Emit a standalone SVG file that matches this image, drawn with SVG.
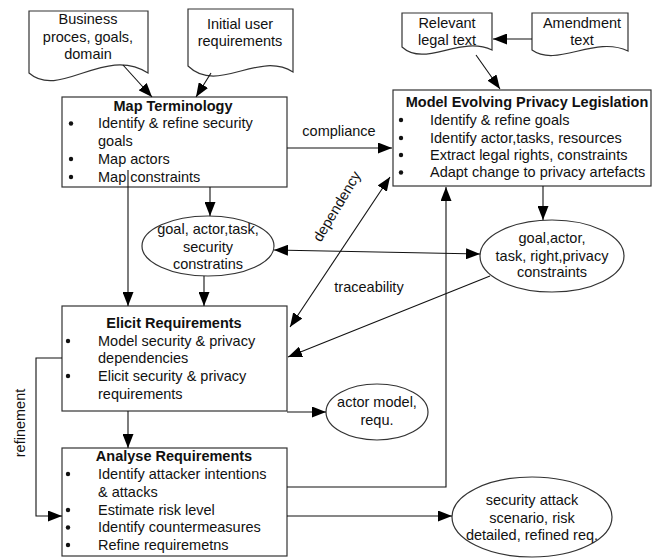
<svg xmlns="http://www.w3.org/2000/svg" width="653" height="558" viewBox="0 0 653 558">
<defs>
<marker id="ah" markerUnits="userSpaceOnUse" markerWidth="15" markerHeight="11" refX="14" refY="5.5" orient="auto-start-reverse"><path d="M0,0 L14,5.5 L0,11 z" fill="#000"/></marker>
</defs>
<style>
text{font-family:"Liberation Sans",Arial,sans-serif;font-size:14.5px;fill:#111}
.c{text-anchor:middle}
.b{font-weight:bold}
.shape{fill:#fff;stroke:#333;stroke-width:1.2}
.ln{fill:none;stroke:#111;stroke-width:1.1}
.arr{marker-end:url(#ah)}
.both{marker-start:url(#ah);marker-end:url(#ah)}
.dot{fill:#111}
</style>
<rect width="653" height="558" fill="#fff"/>

<g id="doc-business">
<path class="shape" d="M29,11 H148 V73 C105,45 60,100 29,73 Z"/>
<text class="c" x="88" y="24">Business</text>
<text class="c" x="88" y="41.5">proces, goals,</text>
<text class="c" x="88" y="59">domain</text>
</g>
<g id="doc-initial">
<path class="shape" d="M188,9 H293 V72 C258,50 218,95 188,66 Z"/>
<text class="c" x="240" y="28.5">Initial user</text>
<text class="c" x="240" y="46">requirements</text>
</g>
<g id="doc-legal">
<path class="shape" d="M402,13 H492 V50 C460,35 425,68 402,47 Z"/>
<text class="c" x="447" y="28">Relevant</text>
<text class="c" x="447" y="45">legal text</text>
</g>
<g id="doc-amendment">
<path class="shape" d="M532,13 H628 V51 C595,35 557,68 532,50 Z"/>
<text class="c" x="582" y="28">Amendment</text>
<text class="c" x="582" y="45">text</text>
</g>

<g id="map-terminology">
<rect class="shape" x="62" y="97" width="225" height="90"/>
<text class="c b" x="173" y="110.7">Map Terminology</text>
<circle class="dot" cx="71" cy="123.5" r="2.2"/>
<text x="98" y="128.3">Identify &amp; refine security</text>
<text x="98" y="146">goals</text>
<circle class="dot" cx="71" cy="159" r="2.2"/>
<text x="98" y="164">Map actors</text>
<circle class="dot" cx="71" cy="177" r="2.2"/>
<text x="98" y="181.7">Map constraints</text>
</g>

<g id="model-legislation">
<rect class="shape" x="393" y="90" width="258" height="96"/>
<text class="c b" x="527" y="107.3">Model Evolving Privacy Legislation</text>
<circle class="dot" cx="401" cy="120" r="2.2"/>
<text x="430" y="125">Identify &amp; refine goals</text>
<circle class="dot" cx="401" cy="138" r="2.2"/>
<text x="430" y="142.7">Identify actor,tasks, resources</text>
<circle class="dot" cx="401" cy="155" r="2.2"/>
<text x="430" y="160">Extract legal rights, constraints</text>
<circle class="dot" cx="401" cy="172.5" r="2.2"/>
<text x="430" y="177.3">Adapt change to privacy artefacts</text>
</g>

<g id="elicit">
<rect class="shape" x="62" y="306" width="225" height="105"/>
<text class="c b" x="174" y="328.3">Elicit Requirements</text>
<circle class="dot" cx="68" cy="341" r="2.2"/>
<text x="98" y="345.7">Model security &amp; privacy</text>
<text x="98" y="363">dependencies</text>
<circle class="dot" cx="68" cy="376" r="2.2"/>
<text x="98" y="381">Elicit security &amp; privacy</text>
<text x="98" y="398.5">requirements</text>
</g>

<g id="analyse">
<rect class="shape" x="62" y="448" width="225" height="108"/>
<text class="c b" x="174" y="460.7">Analyse Requirements</text>
<circle class="dot" cx="68" cy="474" r="2.2"/>
<text x="98" y="479">Identify attacker intentions</text>
<text x="98" y="497">&amp; attacks</text>
<circle class="dot" cx="68" cy="510" r="2.2"/>
<text x="98" y="515">Estimate risk level</text>
<circle class="dot" cx="68" cy="527.5" r="2.2"/>
<text x="98" y="532.3">Identify countermeasures</text>
<circle class="dot" cx="68" cy="545" r="2.2"/>
<text x="98" y="550">Refine requiremetns</text>
</g>

<g id="artefacts-security">
<ellipse class="shape" cx="208" cy="246" rx="66" ry="30"/>
<text class="c" x="208" y="234">goal, actor,task,</text>
<text class="c" x="208" y="251.7">security</text>
<text class="c" x="208" y="269">constratins</text>
</g>
<g id="artefacts-privacy">
<ellipse class="shape" cx="552" cy="256" rx="72" ry="36"/>
<text class="c" x="552" y="243.3">goal,actor,</text>
<text class="c" x="552" y="261">task, right,privacy</text>
<text class="c" x="552" y="277.3">constraints</text>
</g>
<g id="actor-model">
<ellipse class="shape" cx="377" cy="412" rx="51" ry="28"/>
<text class="c" x="377" y="407.3">actor model,</text>
<text class="c" x="377" y="425">requ.</text>
</g>
<g id="attack-scenario">
<ellipse class="shape" cx="532" cy="517" rx="80" ry="40"/>
<text class="c" x="532" y="505">security attack</text>
<text class="c" x="532" y="523.3">scenario, risk</text>
<text class="c" x="532" y="540">detailed, refined req.</text>
</g>

<g id="connectors">
<path class="ln arr" d="M123,65 L152,97"/>
<path class="ln arr" d="M211,73 L196,97"/>
<path class="ln arr" d="M532,39 L493,39"/>
<path class="ln arr" d="M476,55 L500,89"/>
<path class="ln arr" d="M287,148 L392,148"/>
<path class="ln both" d="M290,327 L390,177"/>
<path class="ln both" d="M274,250 L480,254"/>
<path class="ln arr" d="M210,187 L210,216"/>
<path class="ln arr" d="M204,276 L204,306"/>
<path class="ln arr" d="M128,170 L128,306"/>
<path class="ln arr" d="M543,186 L543,220"/>
<path class="ln arr" d="M490,276 L288,357"/>
<path class="ln arr" d="M62,358 H36 V516 H62"/>
<path class="ln arr" d="M128,411 V448"/>
<path class="ln arr" d="M287,412 H326"/>
<path class="ln arr" d="M287,487 H446 V187"/>
<path class="ln arr" d="M287,516 H452"/>
</g>

<g id="labels">
<text class="c" x="339" y="136">compliance</text>
<text class="c" x="369" y="292">traceability</text>
<text class="c" x="341" y="209" transform="rotate(-59 341 209)">dependency</text>
<text class="c" x="25" y="423" transform="rotate(-90 25 423)">refinement</text>
</g>
</svg>
